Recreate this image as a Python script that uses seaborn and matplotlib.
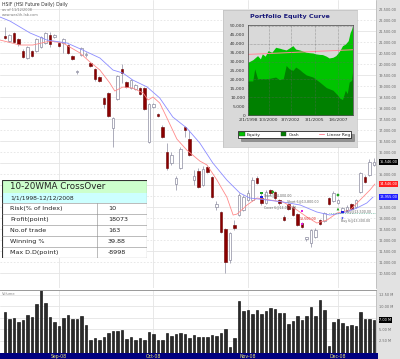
import numpy as np
import pandas as pd
import matplotlib
matplotlib.use("Agg")
import matplotlib.pyplot as plt
import seaborn as sns
from matplotlib.patches import Rectangle, Patch
from matplotlib.lines import Line2D

#%%
# HSIF daily bars (Aug-Dec 2008)
opens = [21273, 21045, 21409, 21136, 20591, 20273, 20591, 20591, 20773, 20955,
         21318, 21227, 20955, 20955, 20864, 20364, 19636, 20409, 20409, 20046,
         19773, 19409, 18455, 18682, 17091, 18409, 19773, 19182, 18909, 18864,
         18909, 18909, 16455, 18046, 17728, 17137, 16000, 15500, 14546, 15273,
         17137, 16591, 14728, 15137, 14501, 15319, 14864, 13501, 13274, 12501,
         11092, 12683, 13137, 13364, 13819, 13819, 14819, 13910, 13683, 14274,
         14183, 13819, 13046, 13637, 13501, 13183, 12774, 12046, 11864, 12137,
         12910, 12865, 13910, 13774, 13683, 13319, 13364, 13637, 13501, 14183,
         14864, 14955, 15409]
highs = [21682, 21364, 21455, 21182, 20682, 20818, 20636, 21182, 21273, 21455,
         21455, 21364, 21000, 21182, 20909, 20409, 19727, 20773, 20546, 20091,
         19818, 19455, 18500, 18727, 17591, 19500, 20000, 19227, 19318, 19091,
         18955, 18955, 18228, 18228, 17773, 17228, 16409, 16000, 14910, 16228,
         17182, 17000, 15182, 15273, 15364, 15364, 14910, 13774, 13319, 12546,
         12365, 12910, 14137, 14046, 14274, 14864, 14910, 14137, 14274, 14319,
         14228, 13864, 13137, 13683, 13592, 13228, 12819, 12137, 12501, 12546,
         12955, 13274, 13955, 14228, 13864, 13501, 13592, 13683, 13864, 15091,
         14955, 15682, 15728]
lows = [21136, 21000, 20955, 20818, 20273, 20227, 20318, 20546, 20727, 20909,
        20773, 21182, 20773, 20500, 20455, 20182, 19546, 20364, 20318, 19864,
        19227, 19182, 18000, 17591, 16228, 18364, 19137, 18909, 18864, 18818,
        18591, 17909, 16409, 18000, 17591, 16637, 15182, 15409, 14274, 15228,
        16682, 15818, 14501, 14364, 14455, 15046, 13910, 13364, 12319, 10501,
        10956, 12455, 13092, 13319, 13774, 13774, 14546, 13592, 13637, 14046,
        13819, 13592, 12865, 13364, 13092, 12637, 12546, 11955, 11683, 12092,
        12683, 12819, 13592, 13728, 13637, 13228, 13319, 13364, 13455, 14137,
        14592, 14910, 15364]
closes = [21182, 21318, 21000, 20909, 20318, 20773, 20364, 21136, 21227, 21409,
          20909, 21318, 20818, 21136, 20500, 20227, 19682, 20727, 20455, 19909,
          19318, 19227, 18182, 17637, 17546, 19455, 19591, 18955, 19273, 19046,
          18637, 17955, 18182, 18182, 17637, 16682, 15273, 15864, 14819, 16137,
          17000, 15864, 14910, 14410, 15228, 15091, 13955, 13637, 12365, 11001,
          12319, 12546, 14046, 13955, 14137, 14728, 14592, 13683, 14183, 14137,
          13910, 13683, 12910, 13410, 13137, 12683, 12592, 12137, 12455, 12455,
          12728, 13228, 13637, 14137, 13819, 13455, 13501, 13410, 13819, 15046,
          14637, 15546, 15546]
volumes = [8.8, 7.2, 7.5, 6.6, 7.1, 8.2, 7.6, 10.4, 13.4, 10.6,
           7.6, 6.5, 5.7, 7.5, 8.1, 7.2, 7.2, 7.8, 5.9, 2.7,
           3.1, 2.6, 3.3, 4.2, 4.7, 4.6, 4.9, 3.0, 3.4, 2.7,
           3.2, 2.7, 4.4, 3.9, 2.6, 2.7, 4.3, 3.6, 4.0, 4.3,
           4.0, 3.2, 3.8, 3.4, 3.4, 3.4, 3.7, 3.6, 4.2, 5.0,
           1.1, 3.1, 11.1, 8.9, 9.1, 8.4, 9.1, 8.3, 8.9, 9.7,
           9.5, 8.5, 8.5, 6.1, 6.7, 7.9, 7.1, 7.8, 9.9, 7.9,
           11.4, 9.2, 1.5, 6.6, 7.3, 6.4, 5.7, 6.0, 5.8, 8.7,
           7.3, 7.3, 7.0]

# 10 WMA (red) and 20 WMA (blue), sampled off the chart
wma10_bar = [-1.1, 3.3, 6.2, 10.0, 12.9, 14.4, 16.7, 18.9, 21.1, 23.3, 24.4, 26.2, 28.4,
             30.7, 31.8, 32.9, 34.4, 36.0, 38.2, 40.4, 43.3, 44.9, 47.1, 49.3, 50.7,
             51.6, 53.8, 56.0, 58.9, 61.8, 64.9, 67.1, 69.3, 71.6, 73.8, 76.7, 78.9,
             81.1, 82.2]
wma10_val = [21091, 20864, 20864, 21045, 20955, 20773, 20500, 20091, 19727, 19137, 18773,
             18955, 18909, 18682, 18364, 18500, 18228, 17546, 16591, 16091, 15591, 15410,
             14728, 13955, 13137, 13183, 13592, 13910, 13819, 13728, 13364, 13046, 12774,
             12910, 13228, 13364, 13819, 14274, 14546]
wma20_bar = [-1.1, 1.1, 5.6, 9.3, 13.8, 17.3, 21.1, 24.0, 26.2, 28.4, 31.6, 34.4, 37.3,
             40.4, 43.3, 46.2, 49.3, 52.2, 54.4, 58.2, 61.8, 65.6, 69.3, 72.2, 75.1,
             78.2, 80.4, 81.8]
wma20_val = [22136, 21955, 21409, 21091, 20955, 20636, 20273, 19727, 19591, 19273, 18955,
             18455, 17591, 17091, 16409, 15500, 14728, 14137, 13910, 13819, 13728, 13592,
             13274, 13137, 13228, 13455, 13683, 13955]

# trade signals and their order labels
sig_bar = [57.0, 57.0, 59.5, 66.0, 66.0, 74.0, 74.0, 75.0, 75.0]
sig_price = [14137, 13955, 14183, 13319, 12728, 14046, 13410, 13274, 13001]
sig_marker = ['s', 's', 'o', 's', 's', 'o', '^', 's', '*']
sig_color = ['#20a020', '#2020e0', '#20a020', '#e020e0', '#e020e0',
             '#20a020', '#20a020', '#2020e0', '#2020e0']
note_bar = [57.6, 57.6, 62.6, 65.6, 75.6, 74.6]
note_price = [14046, 13501, 13774, 12955, 13274, 12865]
note_text = ['Short@14,000.00', 'Cover 6@14,000.00', 'Short 6@13,800.00', '13,500.00',
             'Buy@13,500.00', 'Buy 6@13,300.00']
note_color = ['#666666', '#666666', '#666666', '#e02020', '#666666', '#666666']
stop_level = 13228

month_labels = ['Sep-08', 'Oct-08', 'Nov-08', 'Dec-08']
month_bar = [12, 33, 54, 74]

# portfolio equity inset
eq_year = [1998.0, 1998.5, 1999.0, 1999.3, 1999.5, 1999.8, 2000.1, 2000.5, 2000.9, 2001.3,
           2001.6, 2002.0, 2002.3, 2002.7, 2003.0, 2003.4, 2003.7, 2004.1, 2004.4, 2004.8,
           2005.1, 2005.5, 2005.8, 2006.2, 2006.5, 2006.9, 2007.2, 2007.4, 2007.6, 2007.9,
           2008.2, 2008.5, 2008.7, 2008.85, 2008.95]
eq_val = [29600, 31000, 33300, 31500, 34300, 33000, 36100, 35200, 38000, 37500,
          37000, 36500, 37500, 38900, 37000, 36500, 36000, 35200, 35000, 34800,
          34300, 34000, 33900, 33000, 32000, 32400, 33300, 34600, 36000, 38900,
          39800, 41700, 46300, 48100, 50000]
cash_year = [1998.0, 1998.5, 1998.7, 1999.0, 1999.5, 2000.1, 2000.9, 2001.3, 2001.7, 2002.0,
             2002.3, 2002.7, 2003.0, 2003.4, 2003.7, 2004.1, 2004.8, 2005.5, 2006.2, 2006.9,
             2007.4, 2007.6, 2007.9, 2008.2, 2008.4, 2008.6, 2008.85, 2008.95]
cash_val = [19100, 19100, 25900, 20400, 20400, 20400, 21300, 19800, 20500, 27800,
            26000, 25000, 26900, 25500, 24100, 22500, 21300, 18500, 15400, 13900,
            11100, 9500, 8700, 13900, 12000, 18500, 19400, 24100]
linreg_year = [1998.0, 2008.95]
linreg_val = [34000, 36600]
inset_xticks = [1998.0, 2000.17, 2002.5, 2005.0, 2007.42]
inset_xlabels = ['2/1/1998', '1/3/2000', '3/7/2002', '3/1/2005', '1/6/2007']

# summary table
table_title = '10-20WMA CrossOver'
table_period = '1/1/1998-12/12/2008'
table_labels = ['Risk(% of Index)', 'Profit(point)', 'No.of trade', 'Winning %', 'Max D.D(point)']
table_values = ['10', '18073', '163', '39.88', '-8998']

#%%
sns.set_style('white')
plt.rcParams['font.family'] = ['DejaVu Sans']

W, H = 400, 359
fig = plt.figure(figsize=(W / 100, H / 100), dpi=100)


def box(x0, y0, x1, y1):
    # pixel rectangle -> figure fraction
    return [x0 / W, 1 - y1 / H, (x1 - x0) / W, (y1 - y0) / H]


fig.add_artist(Rectangle((377 / W, 0), 23 / W, 1, transform=fig.transFigure,
                         color='#e2e2e2', zorder=-5))

df = pd.DataFrame({'bar': np.arange(len(closes)), 'open': opens, 'high': highs,
                   'low': lows, 'close': closes, 'volume': volumes})
xmin, xmax = -1.1, 82.45
lab_fs = 2.55

# ---- price panel
ax = fig.add_axes(box(0, 0, 376, 288))
ax.set_xlim(xmin, xmax)
ax.set_ylim(9820, 22910)
levels = np.arange(10500, 23000, 500)
for lv in levels:
    ax.axhline(lv, color='#e4e4e4', lw=0.6, ls='-' if lv % 1000 else (0, (2, 2)), zorder=0)
for mb in month_bar:
    ax.axvline(mb, color='#e4e4e4', lw=0.6, zorder=0)

up = df[df.close >= df.open]
dn = df[df.close < df.open]
ax.vlines(df.bar, df.low, df.high, color='#8c8ca0', lw=0.5, zorder=2)
ax.bar(up.bar, (up.close - up.open).clip(lower=25), bottom=up.open, width=0.62,
       color='white', edgecolor='#8c8ca0', linewidth=0.5, zorder=3)
ax.bar(dn.bar, (dn.open - dn.close).clip(lower=25), bottom=dn.close, width=0.62,
       color='#8b0000', edgecolor='#6a0000', linewidth=0.4, zorder=3)

sns.lineplot(x=wma10_bar, y=wma10_val, ax=ax, color='#ff8a8a', lw=0.6, zorder=4)
sns.lineplot(x=wma20_bar, y=wma20_val, ax=ax, color='#8c8cff', lw=0.6, zorder=4)

ax.hlines(stop_level, 72, xmax, color='#40a080', lw=0.5, ls=(0, (1, 1.5)), zorder=4)
for b, p, m, c in zip(sig_bar, sig_price, sig_marker, sig_color):
    ax.scatter(b, p, marker=m, s=4, color=c, edgecolor='none', zorder=6)
for b, p, t, c in zip(note_bar, note_price, note_text, note_color):
    ax.text(b, p, t, fontsize=2.3, color=c, va='center', ha='left', zorder=6)

ax.yaxis.tick_right()
ax.set_yticks(levels)
ax.set_yticklabels([f'{v:,.2f}' for v in levels], fontsize=lab_fs, color='#666666')
ax.tick_params(axis='y', length=0, pad=2.2)
ax.set_xticks([])
for s in ['top', 'left', 'bottom']:
    ax.spines[s].set_visible(False)
ax.spines['right'].set_color('#aaaaaa')
ax.spines['right'].set_linewidth(0.5)

ytr = ax.get_yaxis_transform()
for val, fc in [(closes[-1], 'black'), (wma10_val[-1], '#ff2020'), (wma20_val[-1], '#2020ff')]:
    ax.text(1.009, val, f'{val:,.2f}', transform=ytr, fontsize=lab_fs, color='white',
            va='center', ha='left', bbox=dict(facecolor=fc, edgecolor='none', pad=0.5))

fig.text(2 / W, 1 - 4.5 / H, 'HSIF (HSI Future Daily) Daily', fontsize=3.3, color='#333333', va='center')
fig.text(2 / W, 1 - 10 / H, 'as of 11/12/2008', fontsize=2.5, color='#777777', va='center')
fig.text(2 / W, 1 - 15 / H, 'www.wealth-lab.com', fontsize=2.5, color='#777777', va='center')

# ---- volume panel
axv = fig.add_axes(box(0, 290, 376, 352.5))
sns.barplot(data=df, x='bar', y='volume', ax=axv, color='#2a2a2a', saturation=1,
            width=0.64, edgecolor='black', linewidth=0.4)
axv.set_xlim(xmin, xmax)
axv.set_ylim(0, 13.5)
vlev = [2.5, 5.0, 10.0, 12.5]
for lv in vlev + [7.5]:
    axv.axhline(lv, color='#e4e4e4', lw=0.6, zorder=0)
for mb in month_bar:
    axv.axvline(mb, color='#e4e4e4', lw=0.6, zorder=0)
axv.yaxis.tick_right()
axv.set_yticks(vlev)
axv.set_yticklabels([f'{v:.2f} M' for v in vlev], fontsize=lab_fs, color='#666666')
axv.tick_params(axis='y', length=0, pad=2.2)
axv.set_xticks([])
axv.set_xlabel('')
axv.set_ylabel('')
for s in ['left', 'bottom']:
    axv.spines[s].set_visible(False)
axv.spines['top'].set_color('#999999')
axv.spines['top'].set_linewidth(0.7)
axv.spines['right'].set_color('#aaaaaa')
axv.spines['right'].set_linewidth(0.5)
axv.text(1.009, volumes[-1], f'{volumes[-1]:.2f} M', transform=axv.get_yaxis_transform(),
         fontsize=lab_fs, color='white', va='center', ha='left',
         bbox=dict(facecolor='black', edgecolor='none', pad=0.5))
axv.text(0.005, 0.97, 'Volume', transform=axv.transAxes, fontsize=2.6, color='#888888', va='top')

# ---- date band
axd = fig.add_axes(box(0, 352.5, 378, 359))
axd.set_facecolor('#000080')
axd.set_xlim(xmin, xmin + 378 / 4.5)
axd.set_ylim(0, 1)
axd.set_xticks([])
axd.set_yticks([])
for s in axd.spines.values():
    s.set_visible(False)
for lab, mb in zip(month_labels, month_bar):
    axd.text(mb, 0.45, lab, fontsize=3.3, color='#e8e870', ha='center', va='center')

# ---- summary table
tax = fig.add_axes(box(2, 180, 147, 258))
tax.set_xlim(0, 145)
tax.set_ylim(78, 0)
tax.axis('off')
tax.add_patch(Rectangle((0, 0), 145, 13, facecolor='#ccffcc', edgecolor='none'))
tax.add_patch(Rectangle((0, 13), 145, 10, facecolor='#ccffff', edgecolor='none'))
tax.add_patch(Rectangle((0, 23), 145, 55, facecolor='white', edgecolor='none'))
for k in range(6):
    tax.plot([0, 145], [23 + 11 * k] * 2, color='#888888', lw=0.4)
tax.plot([95, 95], [23, 78], color='#888888', lw=0.4)
tax.add_patch(Rectangle((0, 0), 145, 78, facecolor='none', edgecolor='#333333', lw=0.8))
tax.text(8, 6.8, table_title, fontsize=6.3, color='#222222', va='center')
tax.text(8, 18.2, table_period, fontsize=4.3, color='#222222', va='center')
for k, (lab, val) in enumerate(zip(table_labels, table_values)):
    tax.text(8, 28.8 + 11 * k, lab, fontsize=4.6, color='#222222', va='center')
    tax.text(106, 28.8 + 11 * k, val, fontsize=4.6, color='#222222', va='center')

# ---- equity inset
ibg = fig.add_axes(box(223, 10, 357, 147))
ibg.set_facecolor('#d9d9d9')
ibg.set_xticks([])
ibg.set_yticks([])
for s in ibg.spines.values():
    s.set_color('#c0c0c0')
    s.set_linewidth(0.5)
ibg.set_zorder(5)
ibg.text(0.5, 0.955, 'Portfolio Equity Curve', transform=ibg.transAxes, ha='center',
         va='center', fontsize=4.6, color='#1a1a7a', fontweight='bold')

iax = fig.add_axes(box(248, 25, 353, 115))
iax.set_zorder(6)
iax.set_facecolor('#d9d9d9')
iax.fill_between(eq_year, eq_val, color='#00c400', lw=0)
iax.fill_between(cash_year, cash_val, color='#008000', lw=0)
sns.lineplot(x=linreg_year, y=linreg_val, ax=iax, color='#ff8a9a', lw=0.7)
iax.set_xlim(1998.0, 2009.0)
iax.set_ylim(0, 50500)
iax.set_yticks(np.arange(0, 50001, 5000))
iax.set_yticklabels([f'{v:,}' for v in range(0, 50001, 5000)], fontsize=3.2, color='#333333')
iax.set_xticks(inset_xticks)
iax.set_xticklabels(inset_xlabels, fontsize=3.2, color='#333333')
iax.tick_params(length=1, width=0.4, pad=1)
for xt in inset_xticks:
    iax.axvline(xt, color='#666666', lw=0.4, ls=(0, (1, 1.5)), zorder=3)
for yt in [10000, 20000, 30000, 40000, 50000]:
    iax.axhline(yt, color='#666666', lw=0.4, ls=(0, (1, 1.5)), zorder=3)
for s in iax.spines.values():
    s.set_color('#444444')
    s.set_linewidth(0.5)
handles = [Patch(facecolor='#00c400', edgecolor='#333333', lw=0.3, label='Equity'),
           Patch(facecolor='#008000', edgecolor='#333333', lw=0.3, label='Cash'),
           Line2D([0], [0], color='#ff8a9a', lw=0.7, label='Linear Reg')]
leg = ibg.legend(handles=handles, loc='center', bbox_to_anchor=(294.5 / W, 1 - 134.5 / H),
                 bbox_transform=fig.transFigure, ncol=3, fontsize=3.2, frameon=True,
                 fancybox=False, shadow=True, edgecolor='black', columnspacing=4.5,
                 handlelength=1.2, handleheight=0.8, handletextpad=0.5, borderpad=0.3)
leg.get_frame().set_linewidth(0.5)

fig.savefig('out.png', dpi=100)
